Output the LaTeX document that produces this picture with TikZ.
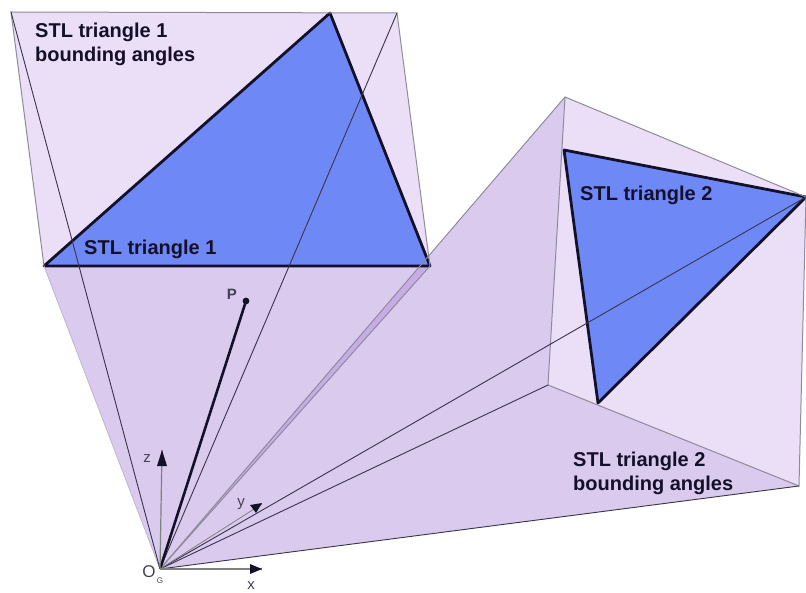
\documentclass[tikz,border=0pt]{standalone}
\usepackage{fontspec}
\setmainfont{Liberation Sans}
\definecolor{lightface}{HTML}{EADFF6}
\definecolor{darkface}{HTML}{DACAEE}
\definecolor{strip}{HTML}{C6ADE6}
\definecolor{stlblue}{HTML}{6E89F6}
\definecolor{edgegray}{HTML}{8F8A9C}
\definecolor{ink}{HTML}{15102A}
\tikzset{
  edgeline/.style={draw=edgegray,line width=1pt},
  softedge/.style={draw=edgegray!35!darkface,line width=0.8pt},
  rayline/.style={draw=ink!85!white,line width=0.9pt},
  stltri/.style={fill=stlblue,draw=ink,line width=2.8pt,line join=round},
  lab/.style={inner sep=0pt,anchor=base west,font=\fontsize{20}{24}\selectfont\bfseries,text=ink},
  axisline/.style={draw=gray,line width=1.2pt},
  axishead/.style={fill=ink,draw=none},
  axlab/.style={inner sep=0pt,font=\fontsize{15}{17}\selectfont,text=ink!80!white}
}
\begin{document}
\begin{tikzpicture}[x=1pt,y=-1pt]
\useasboundingbox (0,0) rectangle (806,593);
\coordinate (O) at (160,569);
\coordinate (A) at (11,12);
\coordinate (B) at (397,13);
\coordinate (C) at (430,266);
\coordinate (D) at (44,266);
\coordinate (T) at (330,13);
\coordinate (E) at (565,97);
\coordinate (F) at (806,197);
\coordinate (G) at (799,486);
\coordinate (H) at (548,385);
\coordinate (U) at (564,150);
\coordinate (V) at (598,403);
\coordinate (X) at (429,256);
\coordinate (P) at (246,301);
\coordinate (Zt) at (162,450);
\coordinate (Yt) at (262,504);
\coordinate (Xt) at (262,569);
% faces
\fill[lightface] (A) -- (B) -- (C) -- (D) -- cycle;
\fill[lightface] (E) -- (F) -- (G) -- (H) -- cycle;
\fill[darkface] (O) -- (D) -- (C) -- cycle;
\fill[darkface] (O) -- (X) -- (E) -- (H) -- (G) -- cycle;
\fill[strip] (O) -- (C) -- (X) -- cycle;
% triangles
\draw[stltri] (T) -- (C) -- (D) -- cycle;
\draw[stltri] (U) -- (F) -- (V) -- cycle;
% outer edges
\draw[edgeline] (D) -- (A) -- (B) -- (C);
\draw[softedge] (D) -- (O);
\draw[edgeline] (E) -- (F) -- (G) -- (H) -- cycle;
\draw[edgeline] (O) -- (E);
\draw[edgeline] (O) -- (C);
% rays
\draw[rayline] (O) -- (A);
\draw[rayline] (O) -- (B);
\draw[rayline] (O) -- (F);
\draw[rayline] (O) -- (H);
\draw[rayline] (O) -- (G);
% point
\draw[draw=ink,line width=2.6pt] (O) -- (P);
\fill[ink] (P) circle (3.4);
% axes
\draw[axisline] (O) -- (Zt);
\draw[axisline,line width=0.8pt] (O) -- (Yt);
\draw[axisline] (O) -- (Xt);
\fill[axishead] (162,450) -- (157,466) -- (167,466) -- cycle;
\fill[axishead] (262,503) -- (250,505) -- (256,513) -- cycle;
\fill[axishead] (262,569) -- (250,564) -- (250,574) -- cycle;
% labels
\node[lab] (l1) at (35,38) {STL triangle 1};
\node[lab] (l2) at (35,62) {bounding angles};
\node[lab] (l3) at (84,255) {STL triangle 1};
\node[lab] (l4) at (580,201) {STL triangle 2};
\node[lab] (l5) at (573,466) {STL triangle 2};
\node[lab] (l6) at (573,490) {bounding angles};
\node[axlab] (lz) at (147,459) {z};
\node[axlab] (ly) at (241,504) {y};
\node[axlab] (lx) at (251,586) {x};
\node[axlab,font=\fontsize{17}{19}\selectfont] (lo) at (149,572) {O};
\node[axlab,font=\fontsize{8}{9}\selectfont] (lg) at (160,581) {G};
\node[axlab,font=\fontsize{15}{17}\selectfont\bfseries] (lp) at (232,294) {P};
\end{tikzpicture}
\end{document}
